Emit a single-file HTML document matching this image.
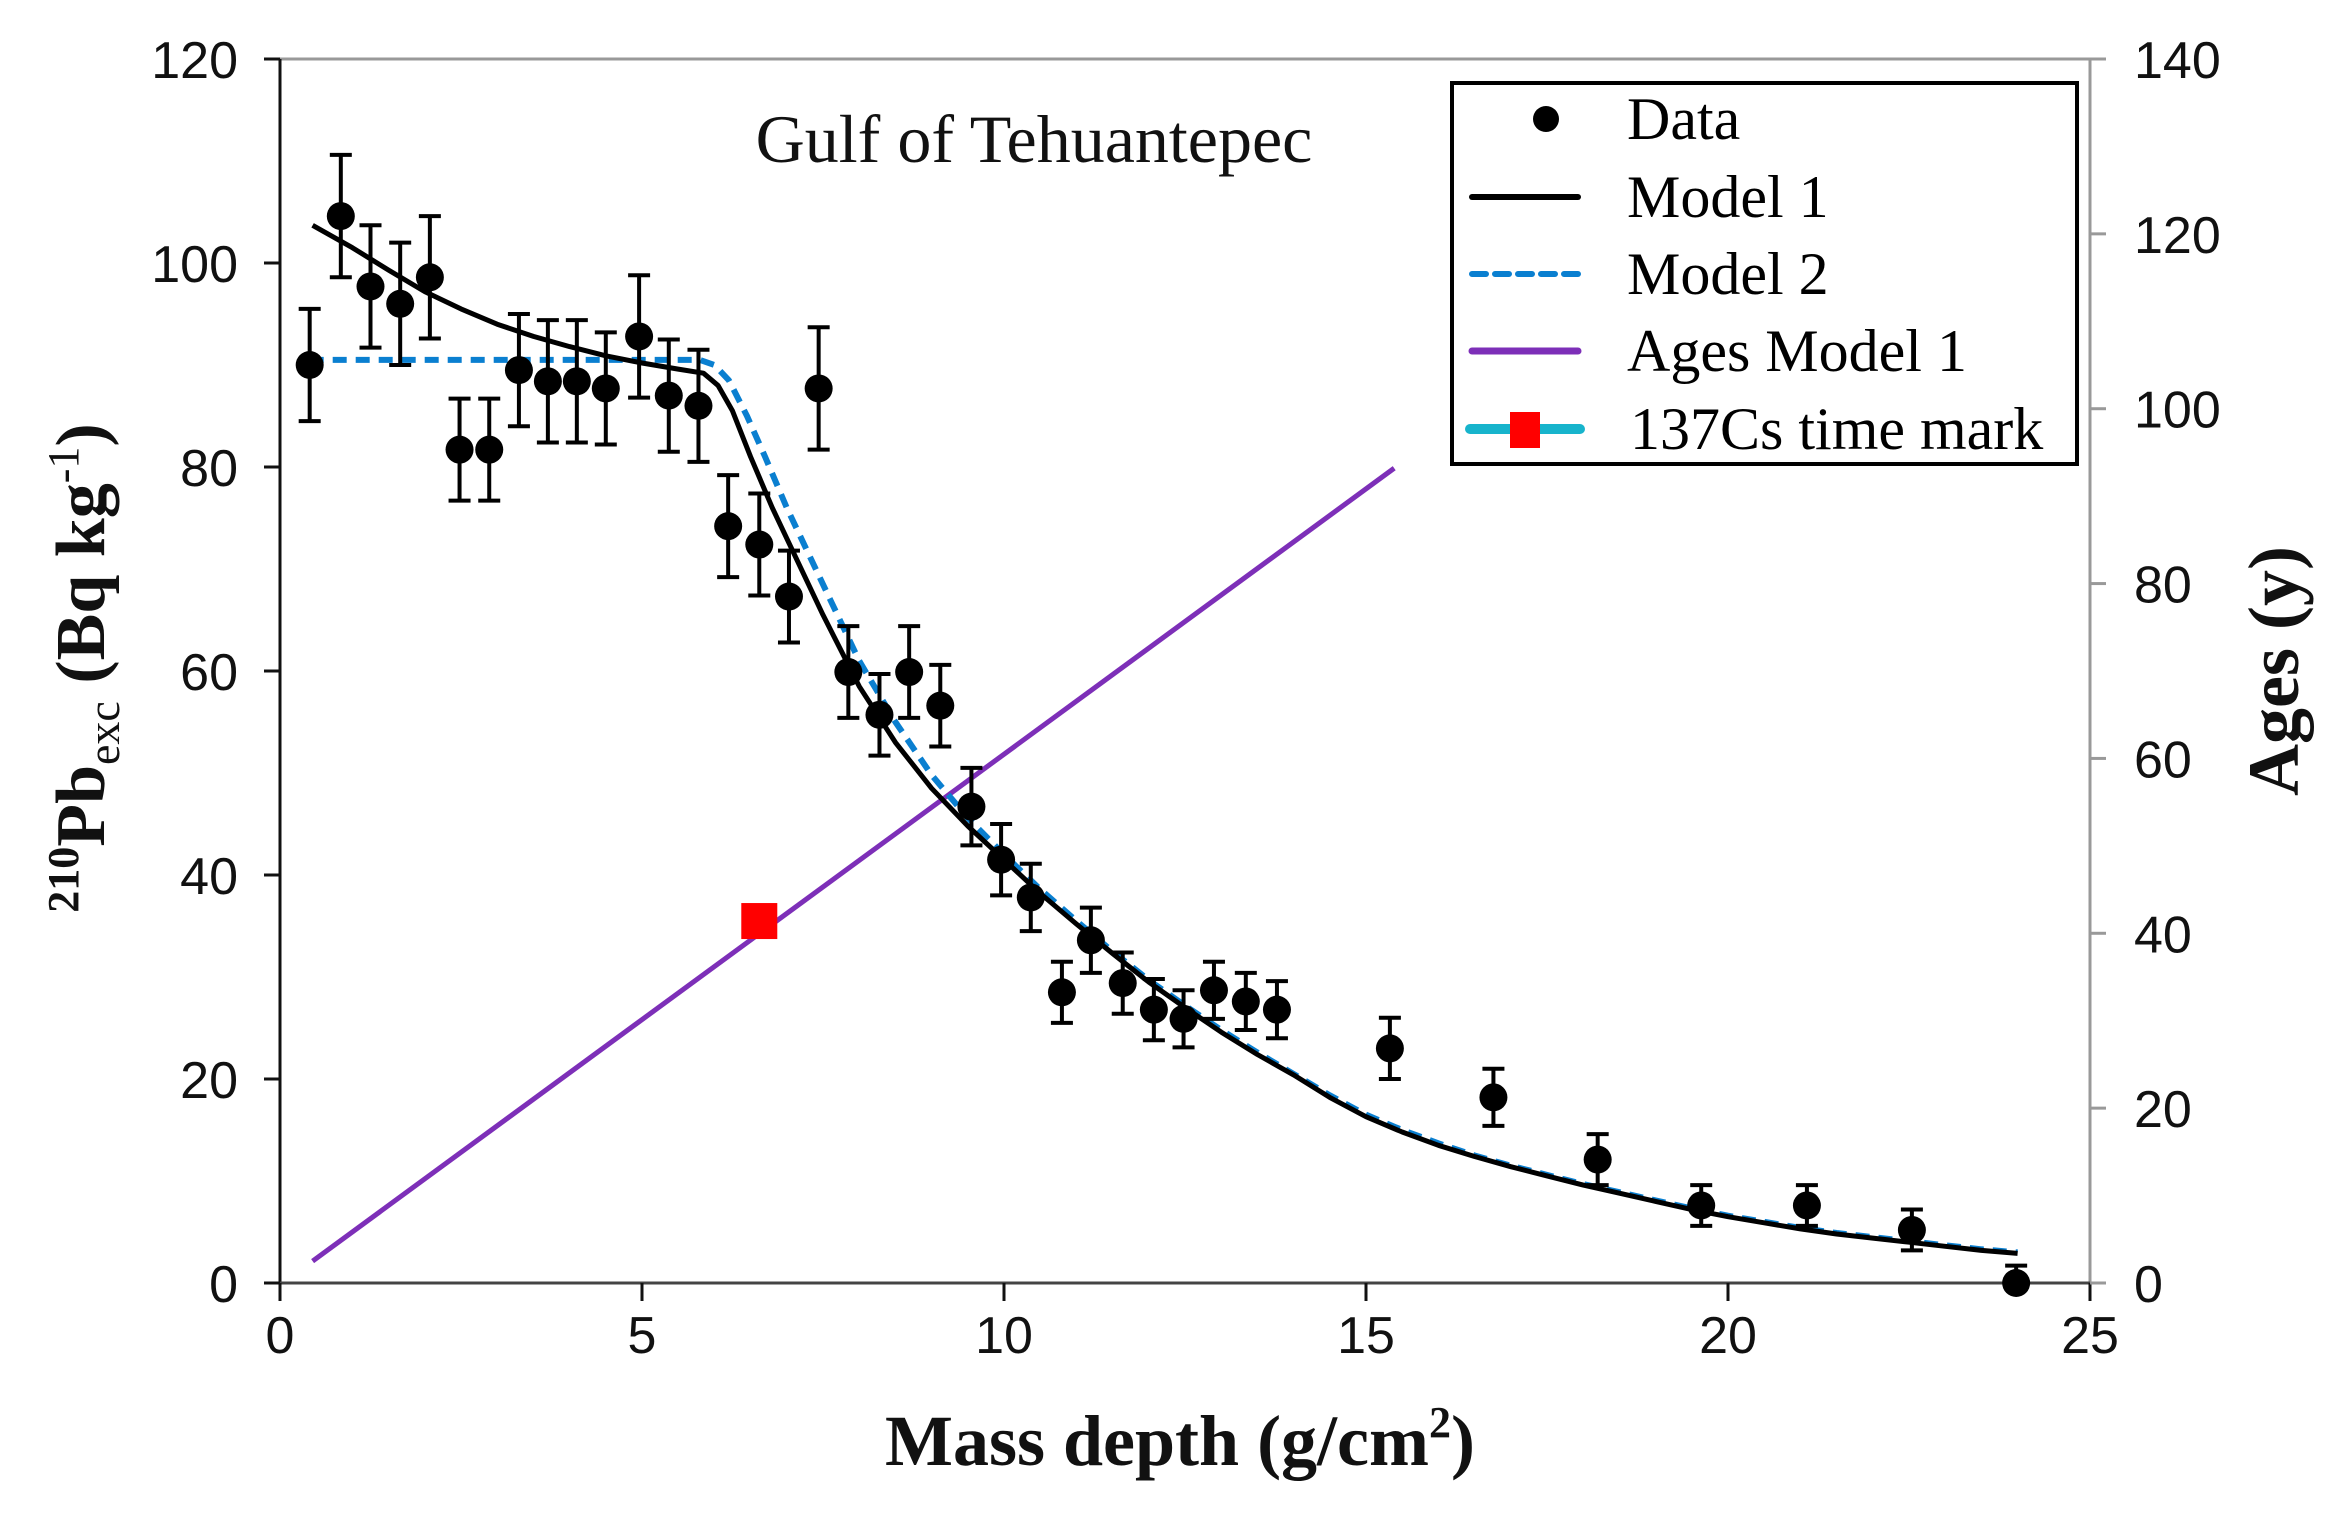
<!DOCTYPE html>
<html><head><meta charset="utf-8"><style>
html,body{margin:0;padding:0;background:#fff;}
svg{display:block;}
text{font-family:"Liberation Serif",serif;}
.tick{font-family:"Liberation Sans",sans-serif;font-size:52px;fill:#111;}
</style></head>
<body>
<svg id="chart" width="2326" height="1523" viewBox="0 0 2326 1523" xmlns="http://www.w3.org/2000/svg">
<g id="axes"></g>
<g id="series"></g>
<text x="1034" y="162" font-size="68" text-anchor="middle" fill="#111">Gulf of Tehuantepec</text>
<text x="1180" y="1465" font-size="72" font-weight="bold" text-anchor="middle" fill="#111">Mass depth (g/cm<tspan font-size="44" dy="-28">2</tspan><tspan dy="28">)</tspan></text>
<text transform="translate(104,668) rotate(-90)" font-size="70" font-weight="bold" text-anchor="middle" fill="#111"><tspan font-size="44" dy="-26">210</tspan><tspan dy="26">Pb</tspan><tspan font-size="46" font-weight="normal" dy="15">exc</tspan><tspan dy="-15"> (Bq kg</tspan><tspan font-size="44" font-weight="normal" dy="-26">-1</tspan><tspan dy="26">)</tspan></text>
<text transform="translate(2298,671) rotate(-90)" font-size="72" font-weight="bold" text-anchor="middle" fill="#111">Ages (y)</text>
<g>
<rect x="1452" y="83" width="625" height="381" fill="#fff" stroke="#000" stroke-width="4"/>
<circle cx="1546" cy="119" r="13" fill="#000"/>
<text x="1627" y="139" font-size="60">Data</text>
<line x1="1472" y1="197" x2="1578" y2="197" stroke="#000" stroke-width="6" stroke-linecap="round"/>
<text x="1627" y="217" font-size="60">Model 1</text>
<line x1="1472" y1="274" x2="1578" y2="274" stroke="#0a7fd0" stroke-width="6" stroke-dasharray="14,9" stroke-linecap="round"/>
<text x="1627" y="294" font-size="60">Model 2</text>
<line x1="1472" y1="351" x2="1578" y2="351" stroke="#7d2fb8" stroke-width="7" stroke-linecap="round"/>
<text x="1627" y="371" font-size="60">Ages Model 1</text>
<line x1="1470" y1="429" x2="1580" y2="429" stroke="#17b4cc" stroke-width="10" stroke-linecap="round"/>
<rect x="1510" y="412" width="30" height="36" fill="#f00"/>
<text x="1630" y="449" font-size="60">137Cs time mark</text>
</g>
</svg>
<script>
const xTicks=[0,5,10,15,20,25];
const yTicks=[0,20,40,60,80,100,120];
const y2Ticks=[0,20,40,60,80,100,120,140];
const dataX=[0.41,0.84,1.25,1.66,2.07,2.48,2.89,3.3,3.7,4.1,4.5,4.96,5.37,5.78,6.19,6.62,7.03,7.44,7.85,8.28,8.69,9.12,9.55,9.96,10.37,10.8,11.2,11.64,12.07,12.48,12.9,13.34,13.77,15.33,16.76,18.2,19.63,21.09,22.54,23.98];
const dataY=[90,104.6,97.7,96,98.6,81.7,81.7,89.5,88.4,88.4,87.7,92.8,87,86,74.2,72.4,67.3,87.7,59.9,55.7,59.9,56.6,46.7,41.5,37.8,28.5,33.6,29.4,26.8,25.9,28.7,27.6,26.8,23,18.2,12.1,7.6,7.6,5.2,0];
const dataErr=[5.5,6,6,6,6,5,5,5.5,6,6,5.5,6,5.5,5.5,5,5,4.5,6,4.5,4,4.5,4,3.8,3.5,3.3,3,3.2,3,3,2.8,2.8,2.8,2.8,3,2.8,2.5,2,2,2,1.7];
const m1X=[0.45,1,1.5,2,2.5,3,3.5,4,4.5,5,5.5,5.85,6.05,6.25,6.5,6.8,7.1,7.5,8,8.5,9,9.5,10,10.5,11,11.5,12,12.5,13,13.5,14,14.5,15,15.5,16,16.5,17,17.5,18,18.5,19,19.5,20,20.5,21,21.5,22,22.5,23,23.5,24];
const m1Y=[103.7,101.5,99.3,97.2,95.5,94,92.8,91.8,90.9,90.2,89.6,89.2,88,85.5,81,76,71.5,65.5,58.5,53,48.5,44.8,41.5,38.2,35.2,32.3,29.5,27,24.6,22.4,20.4,18.2,16.3,14.8,13.5,12.4,11.4,10.5,9.6,8.8,8,7.2,6.5,5.9,5.3,4.8,4.4,4,3.6,3.2,2.9];
const m2X=[0.41,1,2,3,4,5,5.5,5.8,6.0,6.2,6.45,6.7,7.0,7.3,7.6,8,8.5,9,9.5,10,10.5,11,11.5,12,12.5,13,13.5,14,14.5,15,15.5,16,16.5,17,17.5,18,18.5,19,19.5,20,20.5,21,21.5,22,22.5,23,23.5,24];
const m2Y=[90.5,90.5,90.5,90.5,90.5,90.5,90.5,90.5,90,88.5,85,81,76,71.5,67,61,55,49.8,45.6,42,38.6,35.5,32.5,29.7,27.2,24.8,22.6,20.5,18.4,16.5,15,13.7,12.5,11.5,10.6,9.7,8.9,8.1,7.3,6.6,6,5.4,4.9,4.5,4.1,3.7,3.3,3.0];
const ageX=[0.45,15.39];
const ageY=[2.5,93.2];
const csX=[6.62];
const csY=[41.4];

const NS="http://www.w3.org/2000/svg";
const X0=280,X1=2090,Y0=1283,Y1=59;
const sx=v=>X0+(v-0)/25*(X1-X0);
const sy=v=>Y0-(v)/120*(Y0-Y1);
const sy2=v=>Y0-(v)/140*(Y0-Y1);
function mk(tag,attrs,parent){const e=document.createElementNS(NS,tag);for(const k in attrs)e.setAttribute(k,attrs[k]);parent.appendChild(e);return e;}
const axes=document.getElementById('axes');
const ser=document.getElementById('series');

let e;
e=mk('line',{x1:X0,y1:Y1,x2:X1,y2:Y1,stroke:'#999','stroke-width':3},axes);


e=mk('line',{x1:X1,y1:Y1,x2:X1,y2:Y0,stroke:'#999','stroke-width':3},axes);


e=mk('line',{x1:X0,y1:Y1,x2:X0,y2:Y0,stroke:'#111','stroke-width':3},axes);


e=mk('line',{x1:X0,y1:Y0,x2:X1,y2:Y0,stroke:'#444','stroke-width':3},axes);



xTicks.forEach(v=>{
  const t=mk('line',{x1:sx(v),y1:Y0,x2:sx(v),y2:Y0+18,stroke:'#111','stroke-width':3},axes);
  
  
  const l=mk('text',{x:sx(v),y:Y0+70,'text-anchor':'middle',class:'tick'},axes);
  l.textContent=v;
  
  
});
yTicks.forEach(v=>{
  const t=mk('line',{x1:X0-16,y1:sy(v),x2:X0,y2:sy(v),stroke:'#111','stroke-width':3},axes);
  
  
  const l=mk('text',{x:X0-42,y:sy(v)+19,'text-anchor':'end',class:'tick'},axes);
  l.textContent=v;
  
  
});
y2Ticks.forEach(v=>{
  const t=mk('line',{x1:X1,y1:sy2(v),x2:X1+16,y2:sy2(v),stroke:'#999','stroke-width':3},axes);
  
  
  const l=mk('text',{x:X1+44,y:sy2(v)+19,'text-anchor':'start',class:'tick'},axes);
  l.textContent=v;
  
  
});

function path(xs,ys,f){return xs.map((x,i)=>(i?'L':'M')+sx(x).toFixed(1)+','+f(ys[i]).toFixed(1)).join(' ');}
e=mk('path',{d:path(ageX,ageY,sy2),fill:'none',stroke:'#7d2fb8','stroke-width':5},ser);


e=mk('path',{d:path(m2X,m2Y,sy),fill:'none',stroke:'#0a7fd0','stroke-width':6,'stroke-dasharray':'14,9','stroke-linejoin':'round'},ser);


e=mk('path',{d:path(m1X,m1Y,sy),fill:'none',stroke:'#000','stroke-width':5,'stroke-linejoin':'round','stroke-dasharray':'none'},ser);



dataX.forEach((x,i)=>{
  const cx=sx(x),cy=sy(dataY[i]),t=sy(dataY[i]+dataErr[i]),b=sy(Math.max(0,dataY[i]-dataErr[i]));
  const g=mk('g',{},ser);
  
  
  mk('line',{x1:cx,y1:t,x2:cx,y2:b,stroke:'#000','stroke-width':4},g);
  mk('line',{x1:cx-11,y1:t,x2:cx+11,y2:t,stroke:'#000','stroke-width':4},g);
  mk('line',{x1:cx-11,y1:b,x2:cx+11,y2:b,stroke:'#000','stroke-width':4},g);
  mk('circle',{cx:cx,cy:cy,r:14,fill:'#000'},g);
});
csX.forEach((x,i)=>{
  const r=mk('rect',{x:sx(x)-18,y:sy2(csY[i])-18,width:36,height:36,fill:'#f00'},ser);
  
  
});
</script>
</body></html>
